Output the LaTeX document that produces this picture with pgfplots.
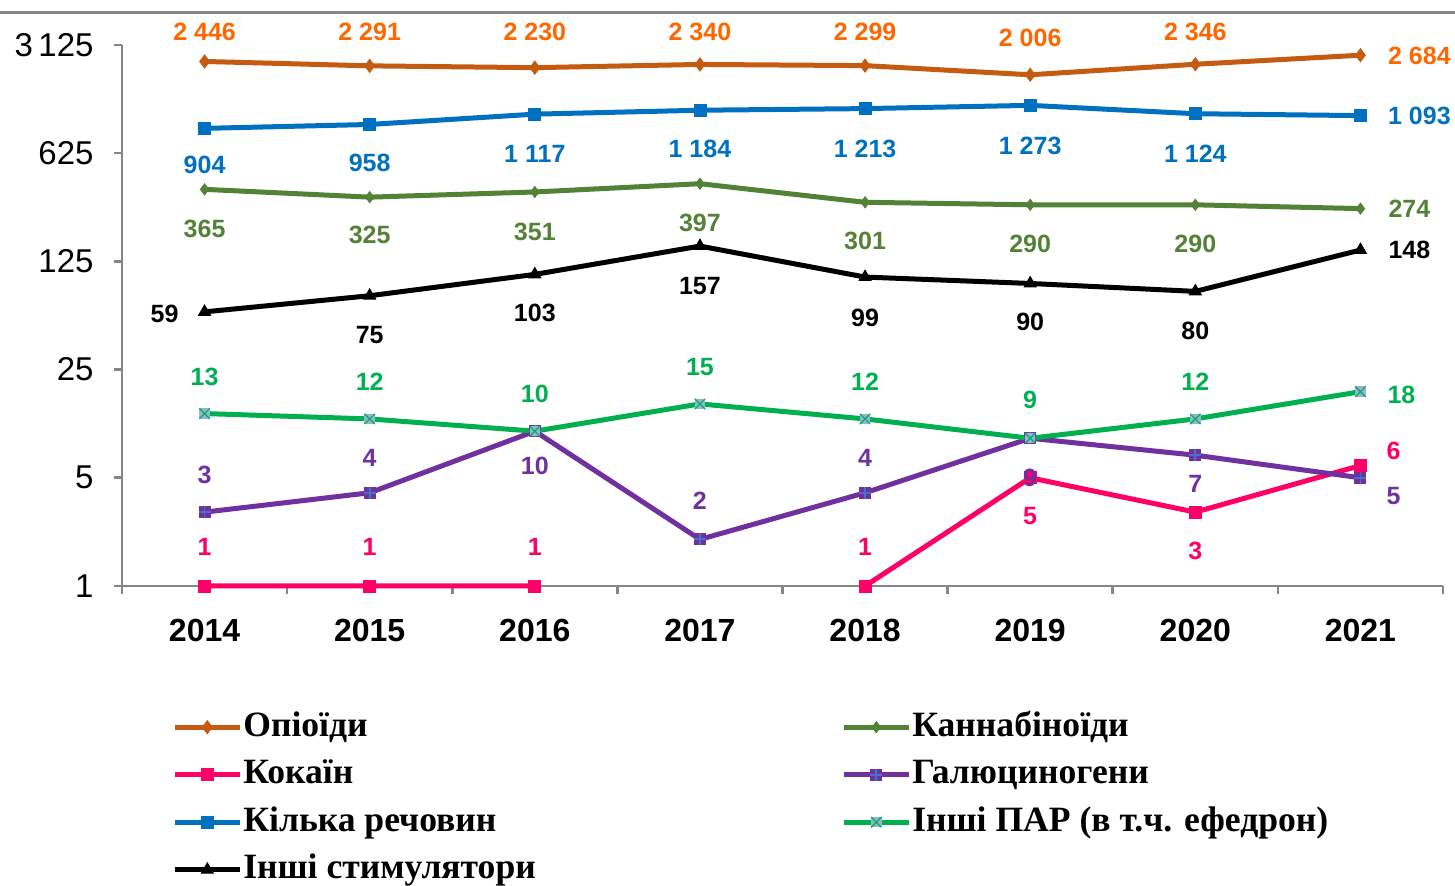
\documentclass[border=0pt]{standalone}
\usepackage{pgfplots}
\pgfplotsset{compat=1.18}
\usepackage{fontspec}
\setmainfont{Liberation Serif}
\newfontfamily\lsans{Liberation Sans}
\definecolor{opi}{HTML}{C55A11}
\definecolor{opil}{HTML}{FF6600}
\definecolor{can}{HTML}{538135}
\definecolor{coc}{HTML}{FF0066}
\definecolor{hal}{HTML}{7030A0}
\definecolor{halp}{HTML}{4472C4}
\definecolor{mul}{HTML}{0070C0}
\definecolor{par}{HTML}{00B050}
\definecolor{parf}{HTML}{95B3D7}
\definecolor{axg}{HTML}{868686}
\pgfdeclareplotmark{halmark}{%
  \pgfpathrectangle{\pgfpoint{-\pgfplotmarksize}{-\pgfplotmarksize}}{\pgfpoint{2\pgfplotmarksize}{2\pgfplotmarksize}}%
  \pgfsetfillcolor{hal}\pgfusepathqfill
  \pgfsetstrokecolor{halp}\pgfsetlinewidth{0.9pt}%
  \pgfpathmoveto{\pgfpoint{-\pgfplotmarksize}{0pt}}\pgfpathlineto{\pgfpoint{\pgfplotmarksize}{0pt}}%
  \pgfpathmoveto{\pgfpoint{0pt}{-\pgfplotmarksize}}\pgfpathlineto{\pgfpoint{0pt}{\pgfplotmarksize}}%
  \pgfusepathqstroke}
\pgfdeclareplotmark{parmark}{%
  \pgfpathrectangle{\pgfpoint{-\pgfplotmarksize}{-\pgfplotmarksize}}{\pgfpoint{2\pgfplotmarksize}{2\pgfplotmarksize}}%
  \pgfsetfillcolor{parf}\pgfusepathqfill
  \pgfsetstrokecolor{par}\pgfsetlinewidth{0.6pt}%
  \pgfpathmoveto{\pgfpoint{-\pgfplotmarksize}{-\pgfplotmarksize}}\pgfpathlineto{\pgfpoint{\pgfplotmarksize}{\pgfplotmarksize}}%
  \pgfpathmoveto{\pgfpoint{-\pgfplotmarksize}{\pgfplotmarksize}}\pgfpathlineto{\pgfpoint{\pgfplotmarksize}{-\pgfplotmarksize}}%
  \pgfusepathqstroke}
\pgfplotsset{
  lab/.style={
    visualization depends on={\thisrow{dx}\as\dx},
    visualization depends on={\thisrow{dy}\as\dy},
    nodes near coords,
    point meta=explicit symbolic,
    nodes near coords style={anchor=center, xshift=\dx*1pt, yshift=\dy*1pt, text=#1,
      font=\lsans\bfseries\fontsize{12.5}{14}\selectfont, inner sep=0pt},
  },
}
\begin{document}
\begin{tikzpicture}
\path[use as bounding box] (0,0) rectangle (727.5pt,443pt);
\draw[axg, line width=1.5pt] (0,436.75pt) -- (727.5pt,436.75pt);
\begin{axis}[
  at={(61pt,150pt)}, anchor=south west,
  scale only axis, width=660.5pt, height=270.5pt,
  ymode=log, log basis y=5,
  xmin=-0.5, xmax=7.5, ymin=1, ymax=3125,
  clip=false,
  axis lines*=left,
  axis line style={axg, line width=1.3pt, -},
  tick align=outside,
  tick style={axg, line width=1.3pt},
  major tick length=4pt, minor tick length=4pt,
  xtick={0,...,7},
  xticklabels={2014,2015,2016,2017,2018,2019,2020,2021},
  major x tick style={draw=none},
  minor xtick={-0.5,0.5,...,7.5},
  ytick={1,5,25,125,625,3125},
  yticklabels={1,5,25,125,625,3\,125},
  yminorticks=false,
  /pgf/number format/assume math mode=true,
  xticklabel style={font=\lsans\bfseries\fontsize{16}{19}\selectfont, yshift=-9.2pt},
  yticklabel style={font=\lsans\fontsize{16.5}{19}\selectfont, xshift=-6.7pt},
  unbounded coords=jump,
  every axis plot/.append style={line width=2.5pt},
  legend columns=2,
  legend cell align=left,
  legend style={at={(0.0378,-0.227)}, anchor=north west, draw=none, fill=none,
    inner sep=0pt, column sep=0pt, row sep=5.75pt,
    font=\bfseries\fontsize{17.8}{22}\selectfont,
    nodes={inner xsep=0.5pt, inner ysep=0pt, text height=13.5pt, text depth=4.5pt}},
  legend image code/.code={\draw[mark repeat=2,mark phase=2] plot coordinates {(0pt,0pt) (16.25pt,0pt) (32.5pt,0pt)};},
]
% Opioids
\addplot[opi, mark=diamond*, mark size=3.3pt, mark options={line width=0.4pt}, lab=opil]
 table[col sep=comma, row sep=\\, x=x, y=y, meta=l]{
x,y,l,dx,dy\\
0,2446,2 446,0,14.7\\
1,2291,2 291,0,16.9\\
2,2230,2 230,0,17.8\\
3,2340,2 340,0,16.2\\
4,2299,2 299,0,16.8\\
5,2006,2 006,0,18.4\\
6,2346,2 346,0,16.1\\
7,2684,2 684,29.5,-0.5\\
};
\addlegendentry{\makebox[298.5pt][l]{Опіоїди}}
% Cannabinoids
\addplot[can, mark=diamond*, mark size=2.8pt, mark options={line width=0.4pt}, lab=can]
 table[col sep=comma, row sep=\\, x=x, y=y, meta=l]{
x,y,l,dx,dy\\
0,365,365,0,-20\\
1,325,325,0,-19\\
2,351,351,0,-20.2\\
3,397,397,0,-19.8\\
4,301,301,0,-19.5\\
5,290,290,0,-19.7\\
6,290,290,0,-19.7\\
7,274,274,24.5,0\\
};
\addlegendentry{Каннабіноїди}
% Cocaine
\addplot[coc, mark=square*, mark size=3pt, mark options={line width=0.4pt}, lab=coc]
 table[col sep=comma, row sep=\\, x=x, y=y, meta=l]{
x,y,l,dx,dy\\
0,1,1,0,19.5\\
1,1,1,0,19.5\\
2,1,1,0,19.5\\
3,nan,x,0,0\\
4,1,1,0,19.5\\
5,5,5,0,-19\\
6,3,3,0,-19.4\\
7,6,6,16.5,7.4\\
};
\addlegendentry{\makebox[298.5pt][l]{Кокаїн}}
% Hallucinogens
\addplot[hal, mark=halmark, mark size=3pt, lab=hal]
 table[col sep=comma, row sep=\\, x=x, y=y, meta=l]{
x,y,l,dx,dy\\
0,3,3,0,18.6\\
1,4,4,0,17.5\\
2,10,10,0,-17.2\\
3,2,2,0,19.3\\
4,4,4,0,17.5\\
5,9,9,0,-19.7\\
6,7,7,0,-14.3\\
7,5,5,16.5,-9\\
};
\addlegendentry{Галюциногени}
% Multiple substances
\addplot[mul, mark=square*, mark size=3pt, mark options={line width=0.4pt}, lab=mul]
 table[col sep=comma, row sep=\\, x=x, y=y, meta=l]{
x,y,l,dx,dy\\
0,904,904,0,-18.4\\
1,958,958,0,-19.3\\
2,1117,1 117,0,-20\\
3,1184,1 184,0,-19.4\\
4,1213,1 213,0,-20.2\\
5,1273,1 273,0,-20.4\\
6,1124,1 124,0,-20.2\\
7,1093,1 093,29.5,0\\
};
\addlegendentry{\makebox[298.5pt][l]{Кілька речовин}}
% Other PAR
\addplot[par, mark=parmark, mark size=2.6pt, lab=par]
 table[col sep=comma, row sep=\\, x=x, y=y, meta=l]{
x,y,l,dx,dy\\
0,13,13,0,18.5\\
1,12,12,0,18.6\\
2,10,10,0,18.7\\
3,15,15,0,18.6\\
4,12,12,0,18.6\\
5,9,9,0,19.2\\
6,12,12,0,18.6\\
7,18,18,20.5,-1.5\\
};
\addlegendentry{Інші ПАР (в т.ч. ефедрон)}
% Other stimulants
\addplot[black, mark=triangle*, mark size=3.5pt, mark options={line width=0.4pt}, lab=black]
 table[col sep=comma, row sep=\\, x=x, y=y, meta=l]{
x,y,l,dx,dy\\
0,59,59,-20,-1\\
1,75,75,0,-19.4\\
2,103,103,0,-19.5\\
3,157,157,0,-20.1\\
4,99,99,0,-20.2\\
5,90,90,0,-19\\
6,80,80,0,-20\\
7,148,148,24.5,0\\
};
\addlegendentry{\makebox[298.5pt][l]{Інші стимулятори}}
\end{axis}
\end{tikzpicture}
\end{document}
